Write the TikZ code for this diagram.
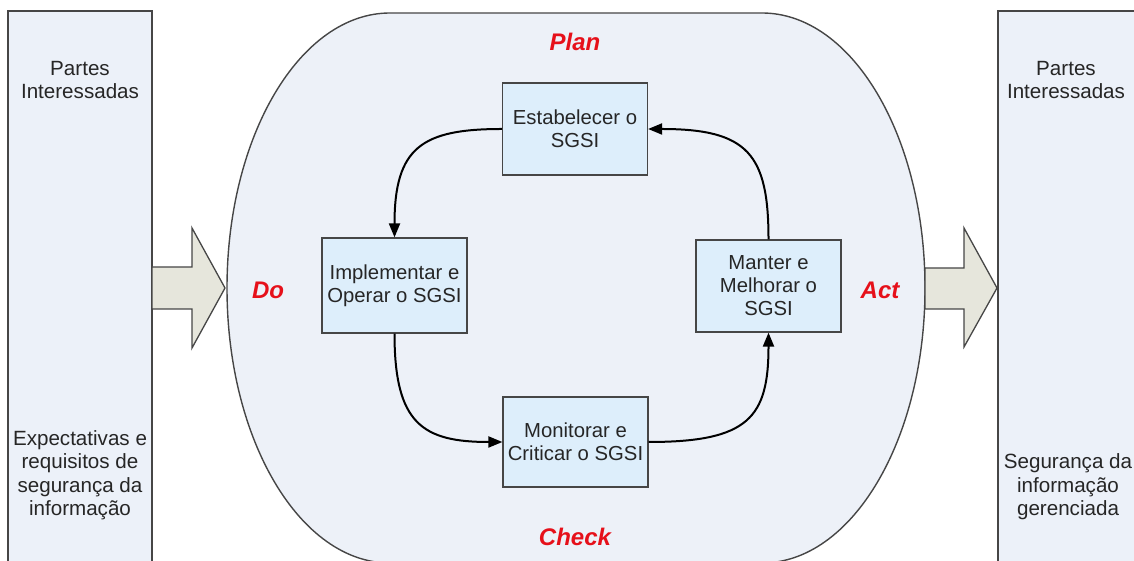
\documentclass[tikz,border=0pt]{standalone}
\usepackage{fontspec}
\setmainfont{Liberation Sans}
\usetikzlibrary{arrows.meta}

\definecolor{panelfill}{RGB}{236,241,249}
\definecolor{cyclefill}{RGB}{237,241,248}
\definecolor{boxfill}{RGB}{221,238,251}
\definecolor{blockfill}{RGB}{230,230,220}
\definecolor{edgegray}{RGB}{70,70,70}
\definecolor{phasered}{RGB}{230,16,26}

\tikzset{
  panel/.style={draw=edgegray, line width=1.8pt, fill=panelfill},
  cycle/.style={draw=edgegray, line width=1.4pt, fill=cyclefill},
  blockarrow/.style={draw=edgegray, line width=1.3pt, fill=blockfill, line join=miter},
  stepbox/.style={draw=edgegray, line width=1.2pt, fill=boxfill, minimum width=145pt,
    minimum height=92pt, align=center, font=\fontsize{20.3}{23}\selectfont, text=black!85},
  paneltext/.style={align=center, font=\fontsize{20.6}{23.5}\selectfont, text=black!85},
  phase/.style={text=phasered, font=\fontsize{24}{27}\selectfont\bfseries\itshape},
  flow/.style={line width=2pt, -{Triangle[length=14pt,width=11pt]}}
}

\begin{document}
\begin{tikzpicture}[x=1pt,y=1pt]
  \useasboundingbox (0,0) rectangle (1134,561);
  \clip (0,0) rectangle (1134,561);

  % side panels for the interested parties
  \draw[panel] (8,-10) rectangle (152,550);
  \draw[panel] (998,-10) rectangle (1150,550);

  % large rounded area holding the PDCA cycle
  \draw[cycle] (390,548) -- (762,548)
    arc[start angle=90, end angle=-90, x radius=163, y radius=275]
    -- (390,-2)
    arc[start angle=270, end angle=90, x radius=163, y radius=275] -- cycle;

  % input and output block arrows
  \draw[blockarrow] (152,294) -- (192,294) -- (192,333) -- (225,273)
    -- (192,213) -- (192,252) -- (152,252) -- cycle;
  \draw[blockarrow] (925,293) -- (964,293) -- (964,333) -- (997,273)
    -- (964,214) -- (964,252) -- (925,252) -- cycle;

  % panel texts
  \node[paneltext] (inTop) at (80,481) {Partes\\Interessadas};
  \node[paneltext] (outTop) at (1066,481) {Partes\\Interessadas};
  \node[paneltext] (inBottom) at (80,86) {Expectativas e\\requisitos de\\segurança da\\informação};
  \node[paneltext] (outBottom) at (1068,74) {Segurança da\\informação\\gerenciada};

  % phase labels
  \node[phase] (plan) at (575,519) {Plan};
  \node[phase] (check) at (575,24) {Check};
  \node[phase] (do) at (268,271) {Do};
  \node[phase] (act) at (880,271) {Act};

  % cycle steps
  \node[stepbox] (est) at (575,432) {Estabelecer o\\SGSI};
  \node[stepbox, minimum height=95pt] (impl) at (394.5,275.5) {Implementar e\\Operar o SGSI};
  \node[stepbox] (man) at (768.5,275) {Manter e\\Melhorar o\\SGSI};
  \node[stepbox, minimum height=90pt] (mon) at (575.5,119) {Monitorar e\\Criticar o SGSI};

  % cycle connectors
  \draw[flow] (est.west) .. controls +(-80,0) and +(0,90) .. (impl.north);
  \draw[flow] (impl.south) .. controls +(0,-90) and +(-80,0) .. (mon.west);
  \draw[flow] (mon.east) .. controls +(100,0) and +(0,-85) .. (man.south);
  \draw[flow] (man.north) .. controls +(0,85) and +(100,0) .. (est.east);
\end{tikzpicture}
\end{document}
